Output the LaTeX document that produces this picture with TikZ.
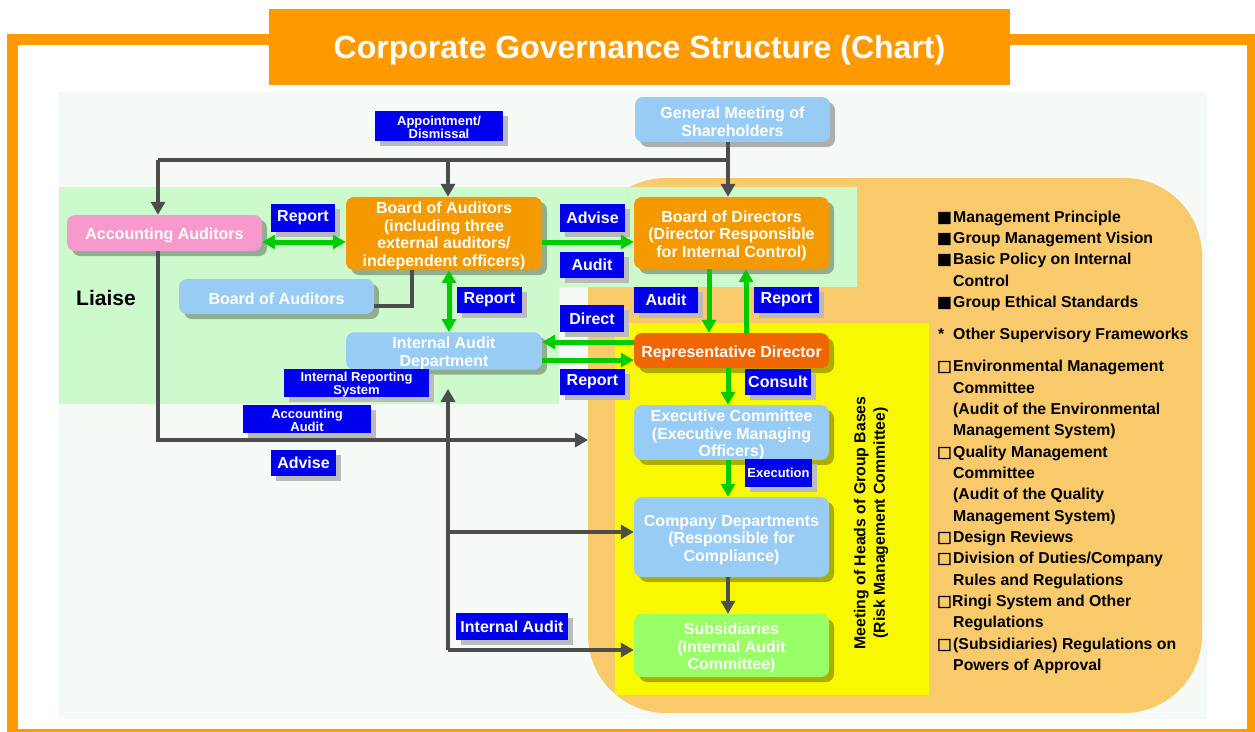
\documentclass[tikz,border=0pt]{standalone}
\usepackage{fontspec}
\setmainfont{Liberation Sans}
\newfontfamily\bulfont[FakeBold=2.5]{DejaVu Sans}
\usetikzlibrary{arrows.meta,shadows,calc}
\definecolor{frameor}{HTML}{FF9900}
\definecolor{lightbg}{HTML}{F5FAF6}
\definecolor{lgreen}{HTML}{CCFACC}
\definecolor{blob}{HTML}{F8CA6C}
\definecolor{yel}{HTML}{F8F800}
\definecolor{lblue}{HTML}{0000EE}
\definecolor{skyb}{HTML}{99CCF5}
\definecolor{pinkb}{HTML}{F799CC}
\definecolor{orb}{HTML}{F49A00}
\definecolor{redor}{HTML}{F06600}
\definecolor{subg}{HTML}{99FF66}
\definecolor{grn}{HTML}{00CC00}
\definecolor{gline}{HTML}{4D4D4D}
\definecolor{labshadow}{HTML}{BBBBBB}
\newcommand\bxf{\fontsize{16}{17.5}\selectfont\bfseries}
\newcommand\lbf{\fontsize{16}{17}\selectfont\bfseries}
\newcommand\slbf{\fontsize{13}{13.5}\selectfont\bfseries}
\newcommand\lstf{\fontsize{15.8}{17}\selectfont\bfseries}
\newcommand\dn{\rule{0pt}{16.5pt}}
\newcommand\dns{\rule{0pt}{12.5pt}}
\tikzset{
  box/.style={rounded corners=8pt, minimum width=195pt, inner sep=0pt, align=center,
    text=white, font=\bxf,
    drop shadow={shadow xshift=5pt, shadow yshift=-5pt, fill=black, opacity=0.3}},
  lab/.style={fill=lblue, text=white, inner sep=0pt, align=center, font=\lbf,
    drop shadow={shadow xshift=5pt, shadow yshift=-5pt, fill=labshadow, opacity=1}},
  slab/.style={lab, font=\slbf},
  garr/.style={draw=gline, line width=4.5pt, -{Triangle[length=13pt,width=14pt]}},
  gplain/.style={draw=gline, line width=4.5pt},
  grarr/.style={draw=grn, line width=5pt, -{Triangle[length=13pt,width=14pt]}},
  grboth/.style={draw=grn, line width=5pt, {Triangle[length=13pt,width=14pt]}-{Triangle[length=13pt,width=14pt]}},
  lst/.style={anchor=base west, inner sep=0pt, font=\lstf},
  bul/.style={anchor=base west, inner sep=0pt, font=\fontsize{15.5}{16}\selectfont\bulfont},
}
\begin{document}
\begin{tikzpicture}[x=1pt,y=-1pt]
\useasboundingbox (0,0) rectangle (1255,731);
\fill[white] (0,0) rectangle (1255,731);
% frame
\draw[frameor, line width=11pt] (12.5,39.5) rectangle (1252.5,734);
% panels
\fill[lightbg] (58,92) rectangle (1207,719);
\fill[blob, rounded corners=78pt] (588,178) rectangle (1202,713);
\fill[yel] (615,323) rectangle (929,695);
\fill[lgreen] (59,187) -- (857,187) -- (857,287) -- (559,287) -- (559,404) -- (59,404) -- cycle;
% title
\fill[frameor] (269,9) rectangle (1010,85);
\node[anchor=base, inner sep=0pt, text=white, font=\fontsize{32}{34}\selectfont\bfseries] (title) at (639.5,58) {Corporate Governance Structure (Chart)};

% coordinates
\coordinate (bus) at (728,160);
\coordinate (busL) at (158,160);
\coordinate (busM) at (448,160);
\coordinate (y242) at (0,242);
\coordinate (k1) at (412,306);
\coordinate (xv) at (449,0);
\coordinate (y342) at (0,342);
\coordinate (y360) at (0,360);
\coordinate (x709) at (709,0);
\coordinate (x746) at (746,0);
\coordinate (aacorner) at (158,440);
\coordinate (blobtip) at (588,440);
\coordinate (iv) at (448,650);
\coordinate (ic) at (448,532);

% nodes
\node[box, fill=skyb, minimum height=45pt] (gm) at (732.5,119.5) {\dn General Meeting of\\Shareholders};
\node[slab, minimum width=128pt, minimum height=30pt] (appt) at (439,126) {\dns Appointment/\\Dismissal};
\node[box, fill=pinkb, minimum height=36pt] (aa) at (164.5,233) {\dn Accounting Auditors};
\node[lab, minimum width=64pt, minimum height=28pt] (rep1) at (303,218) {Report};
\node[box, fill=orb, minimum width=196pt, minimum height=73pt] (boa) at (444,233.5) {\dn Board of Auditors\\(including three\\external auditors/\\independent officers)};
\node[lab, minimum width=65pt, minimum height=28pt] (adv1) at (592.5,218) {Advise};
\node[lab, minimum width=64pt, minimum height=26pt] (aud1) at (592,264.5) {Audit};
\node[box, fill=orb, minimum height=72pt] (bod) at (731.5,233) {\dn Board of Directors\\(Director Responsible\\for Internal Control)};
\node[box, fill=skyb, minimum height=35pt] (boa2) at (276.5,296.5) {\dn Board of Auditors};
\node[inner sep=0pt, font=\fontsize{21}{22}\selectfont\bfseries] (liaise) at (106,298) {Liaise};
\node[lab, minimum width=65pt, minimum height=26pt] (rep2) at (489.5,300) {Report};
\node[box, fill=skyb, minimum width=196pt, minimum height=36pt] (ia) at (444,351) {\dn Internal Audit\\Department};
\node[slab, minimum width=145pt, minimum height=28pt] (irs) at (356.5,383) {\dns Internal Reporting\\System};
\node[lab, minimum width=64pt, minimum height=27pt] (direct) at (592,318.5) {Direct};
\node[lab, minimum width=65pt, minimum height=26pt] (rep3) at (592.5,382) {Report};
\node[box, fill=redor, minimum height=35pt] (rd) at (731.5,350.5) {\dn Representative Director};
\node[lab, minimum width=64pt, minimum height=26pt] (aud2) at (666,300) {Audit};
\node[lab, minimum width=65pt, minimum height=26pt] (rep4) at (786.5,300) {Report};
\node[lab, minimum width=66pt, minimum height=26pt] (consult) at (778,382) {Consult};
\node[box, fill=skyb, minimum height=53pt] (ec) at (731.5,432.5) {\dn Executive Committee\\(Executive Managing\\Officers)};
\node[slab, minimum width=67pt, minimum height=28pt] (exec) at (778.5,473) {Execution};
\node[box, fill=skyb, minimum height=80pt] (cd) at (731.5,537) {\dn Company Departments\\(Responsible for\\Compliance)};
\node[box, fill=subg, minimum height=63pt] (sub) at (731.5,645.5) {\dn Subsidiaries\\(Internal Audit\\Committee)};
\node[slab, minimum width=128pt, minimum height=28pt] (acaud) at (307,419) {\dns Accounting\\Audit};
\node[lab, minimum width=65pt, minimum height=26pt] (adv2) at (303.5,463) {Advise};
\node[lab, minimum width=112pt, minimum height=27pt] (intaud) at (512,626.5) {Internal Audit};

% gray connectors
\draw[gplain] (busL) -- (bus);
\draw[garr] (gm.south -| bus) -- (bod.north -| bus);
\draw[garr] (busL) -- (aa.north -| busL);
\draw[garr] (busM) -- (boa.north -| busM);
\draw[gplain] (boa2.east |- k1) -- (k1) -- (boa.south -| k1);
\draw[garr] (aa.south -| aacorner) -- (aacorner) -- (blobtip);
\draw[garr, shorten >=19pt] (iv) -- (ia.south -| iv);
\draw[garr] (iv) -- (sub.west |- iv);
\draw[garr] (ic) -- (cd.west |- ic);
\draw[garr] (cd.south -| bus) -- (sub.north -| bus);

% green connectors
\draw[grboth] (aa.east |- y242) -- (boa.west |- y242);
\draw[grarr] (boa.east |- y242) -- (bod.west |- y242);
\draw[grboth] (boa.south -| xv) -- (ia.north -| xv);
\draw[grarr] (rd.west |- y342) -- (ia.east |- y342);
\draw[grarr] (ia.east |- y360) -- (rd.west |- y360);
\draw[grarr] (bod.south -| x709) -- (rd.north -| x709);
\draw[grarr] (rd.north -| x746) -- (bod.south -| x746);
\draw[grarr] (rd.south -| bus) -- (ec.north -| bus);
\draw[grarr] (ec.south -| bus) -- (cd.north -| bus);

% vertical text
\node[rotate=90, align=center, inner sep=0pt, font=\fontsize{15.8}{19.5}\selectfont\bfseries] (mtg) at (871,523) {Meeting of Heads of Group Bases\\(Risk Management Committee)};

% right list
\node[bul] (b1) at (937,222) {■};
\node[lst] (t1) at (953,222) {Management Principle};
\node[bul] (b2) at (937,243) {■};
\node[lst] (t2) at (953,243) {Group Management Vision};
\node[bul] (b3) at (937,264) {■};
\node[lst] (t3) at (953,264) {Basic Policy on Internal};
\node[lst] (t3b) at (953,286) {Control};
\node[bul] (b4) at (937,307) {■};
\node[lst] (t4) at (953,307) {Group Ethical Standards};
\node[lst] (b5) at (938,339) {*};
\node[lst] (t5) at (953,339) {Other Supervisory Frameworks};
\node[bul] (b6) at (937,371) {□};
\node[lst] (t6) at (953,371) {Environmental Management};
\node[lst] (t6b) at (953,393) {Committee};
\node[lst] (t6c) at (953,414) {(Audit of the Environmental};
\node[lst] (t6d) at (953,435) {Management System)};
\node[bul] (b7) at (937,457) {□};
\node[lst] (t7) at (953,457) {Quality Management};
\node[lst] (t7b) at (953,478) {Committee};
\node[lst] (t7c) at (953,499) {(Audit of the Quality};
\node[lst] (t7d) at (953,521) {Management System)};
\node[bul] (b8) at (937,542) {□};
\node[lst] (t8) at (953,542) {Design Reviews};
\node[bul] (b9) at (937,563) {□};
\node[lst] (t9) at (953,563) {Division of Duties/Company};
\node[lst] (t9b) at (953,585) {Rules and Regulations};
\node[bul] (b10) at (937,606) {□};
\node[lst] (t10) at (952,606) {Ringi System and Other};
\node[lst] (t10b) at (953,627) {Regulations};
\node[bul] (b11) at (937,649) {□};
\node[lst] (t11) at (953,649) {(Subsidiaries) Regulations on};
\node[lst] (t11b) at (953,670) {Powers of Approval};
\end{tikzpicture}
\end{document}
